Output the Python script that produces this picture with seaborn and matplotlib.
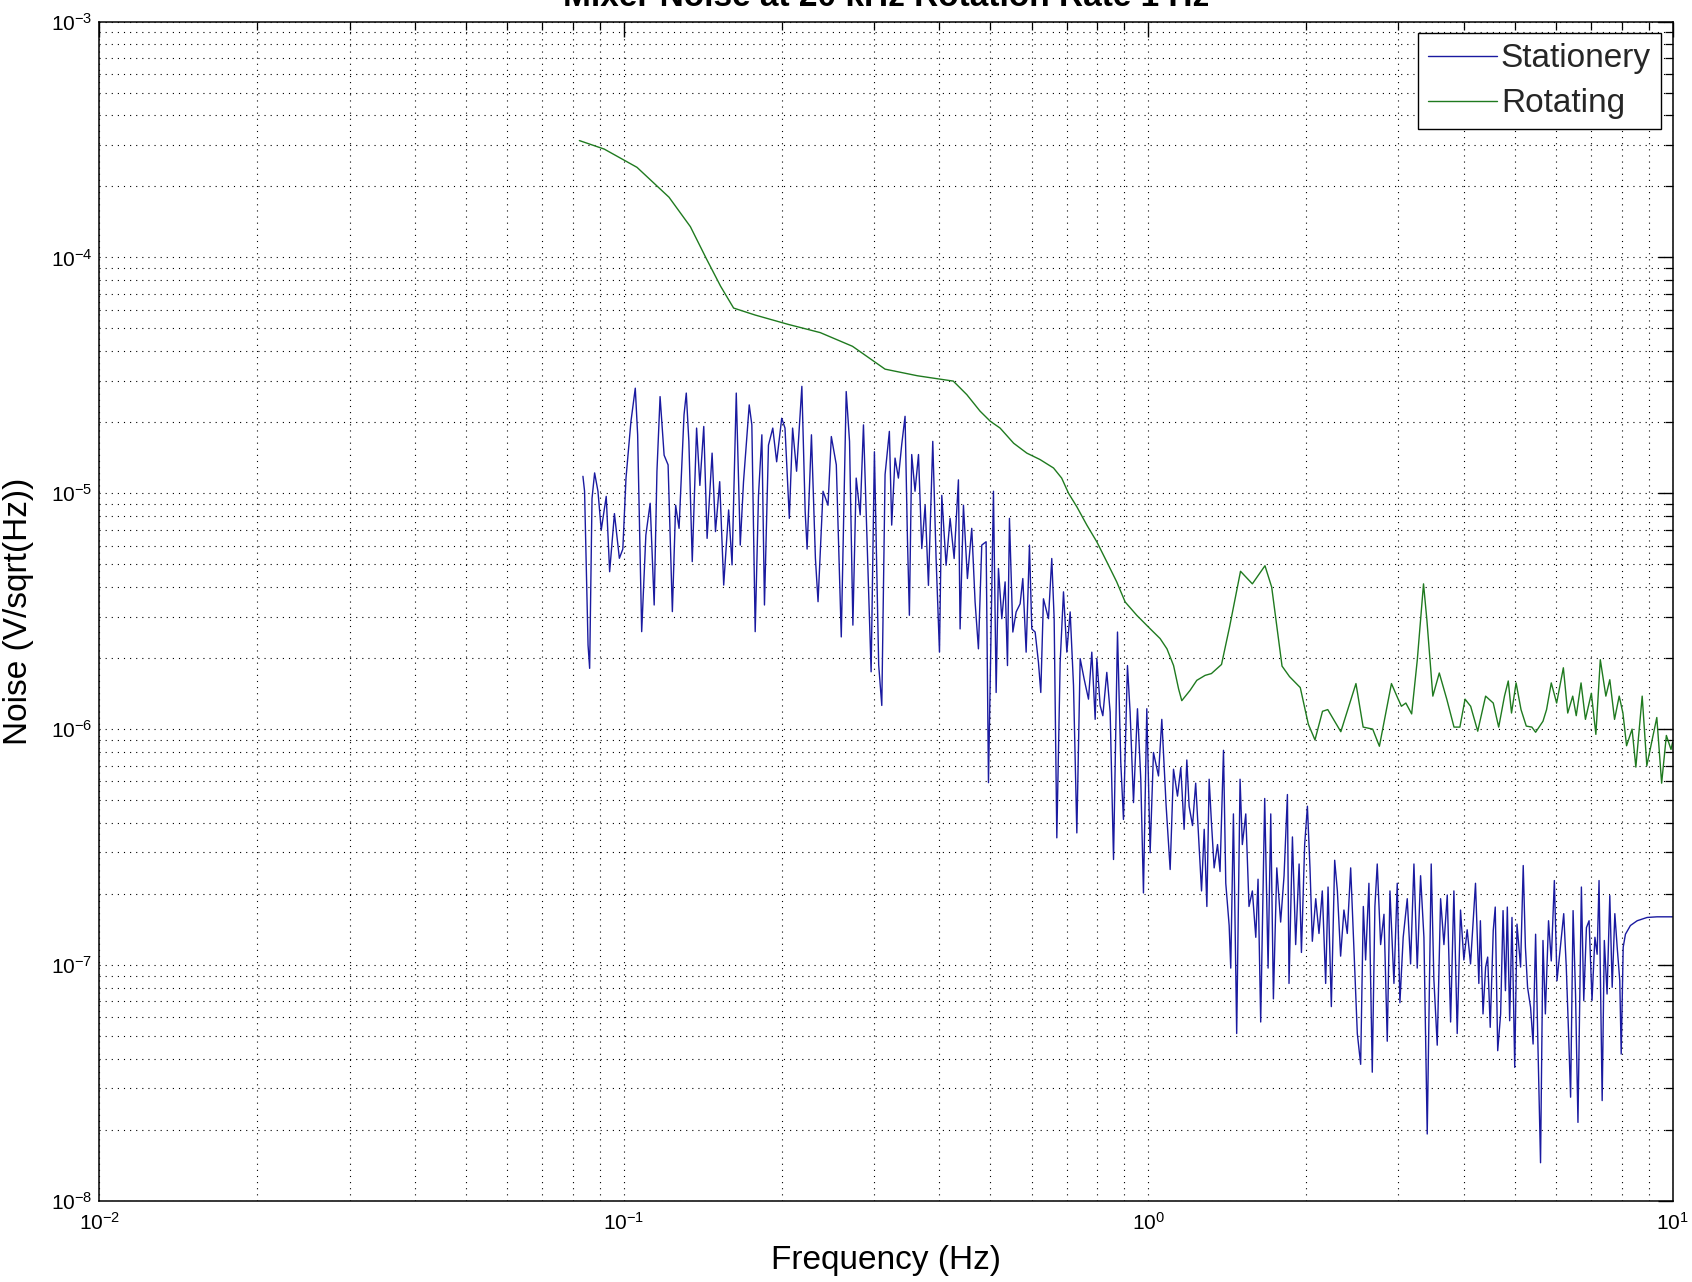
import numpy as np
import pandas as pd
import matplotlib
matplotlib.use("Agg")
import matplotlib.pyplot as plt
import seaborn as sns
from matplotlib.ticker import LogLocator, NullFormatter, LogFormatterSciNotation
from matplotlib.lines import Line2D

# ---------------- data ----------------
title_text = "Mixer Noise at 20 kHz Rotation Rate 1 Hz"
x_label = "Frequency (Hz)"
y_label = "Noise (V/sqrt(Hz))"
series_names = ["Stationery", "Rotating"]

stationary_freq = [
    0.0836, 0.0842, 0.0855, 0.0861, 0.0870, 0.0880, 0.0893, 0.0906, 0.0926, 0.0940,
    0.0960, 0.0981, 0.0996, 0.101, 0.1032, 0.1052, 0.1063, 0.1082, 0.1102, 0.1123,
    0.1143, 0.1157, 0.1173, 0.1194, 0.1215, 0.1238, 0.1256, 0.1275, 0.1303, 0.1316,
    0.1331, 0.1351, 0.1377, 0.1397, 0.1421, 0.1442, 0.1474, 0.1496, 0.1524, 0.1551,
    0.1585, 0.1609, 0.1639, 0.1668, 0.1692, 0.1735, 0.1755, 0.1781, 0.1807, 0.1834,
    0.1855, 0.1888, 0.1924, 0.1957, 0.2001, 0.2030, 0.2069, 0.2099, 0.2136, 0.2186,
    0.2218, 0.2237, 0.2280, 0.2320, 0.2347, 0.2399, 0.2452, 0.2488, 0.2543, 0.2599,
    0.2656, 0.2695, 0.2735, 0.2775, 0.2824, 0.2865, 0.2920, 0.2963, 0.3006, 0.3063,
    0.3105, 0.3150, 0.3210, 0.3243, 0.3291, 0.3340, 0.3389, 0.3439, 0.3475, 0.3505,
    0.3541, 0.3593, 0.3648, 0.3701, 0.3756, 0.3811, 0.3884, 0.3941, 0.4000, 0.4041,
    0.4118, 0.4191, 0.4266, 0.4347, 0.4379, 0.4444, 0.4522, 0.4609, 0.4677, 0.4746,
    0.4816, 0.4909, 0.4960, 0.5018, 0.5070, 0.5130, 0.5182, 0.5259, 0.5336, 0.5392,
    0.5439, 0.5520, 0.5601, 0.5700, 0.5767, 0.5852, 0.5938, 0.5999, 0.6088, 0.6177,
    0.6241, 0.6314, 0.6455, 0.6549, 0.6618, 0.6696, 0.6795, 0.6895, 0.6997, 0.7100,
    0.7205, 0.7311, 0.7419, 0.7550, 0.7695, 0.7808, 0.7924, 0.7983, 0.8099, 0.8195,
    0.8339, 0.8463, 0.8589, 0.8740, 0.8867, 0.8972, 0.9131, 0.9238, 0.9376, 0.9541,
    0.9681, 0.9795, 0.9940, 1.0087, 1.0235, 1.0464, 1.0617, 1.0821, 1.1014, 1.1176,
    1.1374,
    1.154, 1.171, 1.185, 1.197, 1.215, 1.232, 1.251, 1.264, 1.279, 1.294,
    1.307, 1.320, 1.336, 1.356, 1.371, 1.392, 1.406, 1.427, 1.437, 1.454,
    1.475, 1.497, 1.512, 1.535, 1.557, 1.580, 1.604, 1.620, 1.639, 1.668,
    1.693, 1.713, 1.733, 1.759, 1.789, 1.816, 1.843, 1.856, 1.884, 1.911,
    1.940, 1.960, 1.988, 2.012, 2.035, 2.056, 2.087, 2.117, 2.148, 2.180,
    2.203, 2.235, 2.268, 2.295, 2.328, 2.362, 2.397, 2.433, 2.469, 2.505,
    2.542, 2.572, 2.598, 2.636, 2.675, 2.706, 2.734, 2.775, 2.816, 2.857,
    2.891, 2.942, 2.985, 3.020, 3.064, 3.119, 3.165, 3.212, 3.259, 3.307,
    3.356, 3.405, 3.465, 3.506, 3.558, 3.611, 3.664, 3.718, 3.773, 3.828,
    3.884, 3.941, 3.999, 4.058, 4.118, 4.209, 4.271,
    4.30, 4.35, 4.40, 4.44, 4.49, 4.55, 4.59, 4.64, 4.70, 4.75,
    4.80, 4.84, 4.89, 4.94, 5.00, 5.05, 5.13, 5.19, 5.24, 5.29,
    5.36, 5.42, 5.48, 5.53, 5.60, 5.66, 5.72, 5.80, 5.87, 5.95,
    6.02, 6.11, 6.20, 6.27, 6.34, 6.39, 6.46, 6.53, 6.60, 6.70,
    6.77, 6.85, 6.93, 7.02, 7.11, 7.18, 7.24, 7.34, 7.41, 7.50,
    7.59, 7.67, 7.76, 7.84, 7.93, 7.98, 8.05, 8.13, 8.31, 8.56,
    8.94, 9.34, 10.0,
]
stationary_noise = [
    1.18e-5, 1.02e-5, 2.27e-6, 1.81e-6, 9.5e-6, 1.22e-5, 1.02e-5, 6.99e-6, 9.7e-6, 4.65e-6,
    8.2e-6, 5.3e-6, 5.8e-6, 1.16e-5, 2.01e-5, 2.79e-5, 1.77e-5, 2.59e-6, 6.65e-6, 9.07e-6,
    3.36e-6, 1.24e-5, 2.57e-5, 1.45e-5, 1.32e-5, 3.15e-6, 8.9e-6, 7.1e-6, 2.15e-5, 2.66e-5,
    1.66e-5, 5.13e-6, 1.89e-5, 1.08e-5, 1.92e-5, 6.44e-6, 1.48e-5, 6.88e-6, 1.12e-5, 4.08e-6,
    8.5e-6, 4.97e-6, 2.66e-5, 6.03e-6, 1.12e-5, 2.37e-5, 1.95e-5, 2.59e-6, 9.8e-6, 1.77e-5,
    3.36e-6, 1.60e-5, 1.89e-5, 1.36e-5, 2.08e-5, 1.89e-5, 7.83e-6, 1.89e-5, 1.24e-5, 2.84e-5,
    8.36e-6, 5.8e-6, 1.77e-5, 5.3e-6, 3.47e-6, 1.02e-5, 8.9e-6, 1.74e-5, 1.32e-5, 2.46e-6,
    2.70e-5, 1.66e-5, 2.76e-6, 1.16e-5, 8.1e-6, 1.95e-5, 4.97e-6, 1.75e-6, 1.50e-5, 1.87e-6,
    1.26e-6, 1.20e-5, 1.83e-5, 7.33e-6, 1.41e-5, 1.16e-5, 1.61e-5, 2.12e-5, 6.43e-6, 3.04e-6,
    1.46e-5, 1.02e-5, 1.46e-5, 5.83e-6, 8.9e-6, 4.07e-6, 1.66e-5, 5.29e-6, 2.12e-6, 9.8e-6,
    4.95e-6, 7.83e-6, 5.29e-6, 1.14e-5, 2.66e-6, 8.9e-6, 4.35e-6, 7.1e-6, 3.46e-6, 2.19e-6,
    6.03e-6, 6.23e-6, 5.93e-7, 2.66e-6, 1.02e-5, 1.43e-6, 4.80e-6, 2.94e-6, 4.21e-6, 1.86e-6,
    7.83e-6, 2.58e-6, 3.14e-6, 3.40e-6, 4.35e-6, 2.12e-6, 6.03e-6, 2.66e-6, 2.58e-6, 1.92e-6,
    1.43e-6, 3.57e-6, 2.94e-6, 5.29e-6, 2.94e-6, 3.46e-7, 1.92e-6, 3.82e-6, 2.12e-6, 3.14e-6,
    1.53e-6, 3.63e-7, 1.99e-6, 1.63e-6, 1.34e-6, 2.12e-6, 1.10e-6, 1.99e-6, 1.26e-6, 1.14e-6,
    1.74e-6, 1.18e-6, 2.80e-7, 2.58e-6, 7.21e-7, 4.14e-7, 1.86e-6, 1.18e-6, 4.88e-7, 1.22e-6,
    6.13e-7, 2.02e-7, 1.22e-6, 2.99e-7, 7.96e-7, 6.33e-7, 1.10e-6, 4.72e-7, 2.54e-7, 6.76e-7,
    5.2e-7,
    6.87e-7, 3.76e-7, 7.40e-7, 4.71e-7, 3.90e-7, 5.90e-7, 3.12e-7, 2.06e-7, 3.76e-7, 1.77e-7,
    6.13e-7, 4.05e-7, 2.58e-7, 3.24e-7, 2.49e-7, 8.13e-7, 2.22e-7, 1.47e-7, 9.7e-8, 4.37e-7,
    5.12e-8, 6.13e-7, 3.24e-7, 4.37e-7, 1.77e-7, 2.06e-7, 1.31e-7, 2.31e-7, 5.73e-8, 5.08e-7,
    9.7e-8, 4.37e-7, 7.18e-8, 2.58e-7, 1.52e-7, 2.39e-7, 5.28e-7, 8.35e-8, 3.49e-7, 1.22e-7,
    2.68e-7, 1.13e-7, 3.24e-7, 4.71e-7, 2.58e-7, 1.26e-7, 1.91e-7, 1.36e-7, 2.06e-7, 8.35e-8,
    2.14e-7, 6.66e-8, 2.78e-7, 2.06e-7, 1.09e-7, 1.71e-7, 1.36e-7, 2.58e-7, 1.13e-7, 5.12e-8,
    3.79e-8, 1.77e-7, 1.05e-7, 2.22e-7, 3.51e-8, 1.77e-7, 2.68e-7, 1.22e-7, 1.64e-7, 4.75e-8,
    2.06e-7, 8.35e-8, 2.22e-7, 6.92e-8, 1.31e-7, 1.91e-7, 1.01e-7, 2.68e-7, 9.7e-8, 2.39e-7,
    1.31e-7, 1.92e-8, 2.68e-7, 8.67e-8, 4.57e-8, 1.91e-7, 1.22e-7, 1.98e-7, 5.73e-8, 2.06e-7,
    5.12e-8, 1.71e-7, 1.05e-7, 1.41e-7, 1.01e-7, 2.22e-7, 8.35e-8,
    1.54e-7, 6.20e-8, 9.8e-8, 1.08e-7, 5.44e-8, 1.40e-7, 1.76e-7, 4.33e-8, 6.20e-8, 1.70e-7,
    7.78e-8, 1.76e-7, 5.80e-8, 1.59e-7, 3.68e-8, 1.49e-7, 9.8e-8, 2.64e-7, 1.19e-7, 8.04e-8,
    6.61e-8, 4.62e-8, 1.35e-7, 5.10e-8, 1.45e-8, 1.27e-7, 6.20e-8, 1.54e-7, 1.04e-7, 2.28e-7,
    8.58e-8, 1.19e-7, 1.65e-7, 9.8e-8, 4.78e-8, 2.75e-8, 1.70e-7, 7.53e-8, 2.15e-8, 2.14e-7,
    7.06e-8, 1.44e-7, 1.54e-7, 7.06e-8, 1.31e-7, 1.11e-7, 2.28e-7, 2.66e-8, 1.27e-7, 7.53e-8,
    1.97e-7, 8.04e-8, 1.65e-7, 1.19e-7, 8.58e-8, 4.19e-8, 1.19e-7, 1.35e-7, 1.47e-7, 1.54e-7,
    1.59e-7, 1.60e-7, 1.60e-7,
]

rotating_freq = [
    0.0823, 0.0918, 0.106, 0.122, 0.134, 0.144, 0.153, 0.162, 0.178, 0.206,
    0.237, 0.273, 0.315, 0.363, 0.400, 0.425, 0.451, 0.478, 0.500, 0.522,
    0.554, 0.587, 0.622, 0.660, 0.684, 0.705, 0.731, 0.764, 0.798, 0.834,
    0.871, 0.904, 0.951, 1.001, 1.054, 1.086, 1.118, 1.143, 1.159, 1.202,
    1.238, 1.284, 1.32, 1.38, 1.43, 1.50, 1.58, 1.67, 1.72, 1.80,
    1.86, 1.95, 2.02, 2.08, 2.15, 2.20, 2.33, 2.49, 2.57, 2.68,
    2.76, 2.91, 2.98, 3.04, 3.10, 3.18, 3.26, 3.35, 3.40, 3.49,
    3.59, 3.71, 3.83, 3.93, 4.02, 4.12, 4.25, 4.40, 4.55, 4.66,
    4.78, 4.86, 4.93, 5.03, 5.14, 5.26, 5.39, 5.48, 5.66, 5.75,
    5.87, 6.01, 6.19, 6.31, 6.45, 6.55, 6.69, 6.82, 7.00, 7.14,
    7.28, 7.46, 7.59, 7.75, 7.91, 8.04, 8.17, 8.37, 8.51, 8.75,
    8.93, 9.15, 9.33, 9.53, 9.73, 9.93, 10.0,
]
rotating_noise = [
    3.13e-4, 2.88e-4, 2.41e-4, 1.80e-4, 1.35e-4, 9.8e-5, 7.55e-5, 6.1e-5, 5.7e-5, 5.2e-5,
    4.8e-5, 4.2e-5, 3.36e-5, 3.15e-5, 3.05e-5, 2.99e-5, 2.62e-5, 2.23e-5, 2.02e-5, 1.89e-5,
    1.63e-5, 1.48e-5, 1.39e-5, 1.28e-5, 1.16e-5, 1.0e-5, 8.77e-6, 7.33e-6, 6.23e-6, 5.12e-6,
    4.21e-6, 3.46e-6, 3.04e-6, 2.71e-6, 2.42e-6, 2.19e-6, 1.86e-6, 1.48e-6, 1.32e-6, 1.46e-6,
    1.61e-6, 1.69e-6, 1.72e-6, 1.88e-6, 2.72e-6, 4.67e-6, 4.13e-6, 4.93e-6, 4.0e-6, 1.85e-6,
    1.67e-6, 1.50e-6, 1.05e-6, 0.90e-6, 1.19e-6, 1.21e-6, 0.975e-6, 1.56e-6, 1.02e-6, 1.0e-6,
    0.846e-6, 1.56e-6, 1.38e-6, 1.25e-6, 1.29e-6, 1.16e-6, 1.97e-6, 4.13e-6, 2.90e-6, 1.38e-6,
    1.73e-6, 1.34e-6, 1.02e-6, 1.02e-6, 1.34e-6, 1.25e-6, 0.98e-6, 1.38e-6, 1.29e-6, 1.02e-6,
    1.38e-6, 1.60e-6, 1.17e-6, 1.57e-6, 1.21e-6, 1.03e-6, 1.02e-6, 0.97e-6, 1.08e-6, 1.21e-6,
    1.57e-6, 1.29e-6, 1.82e-6, 1.17e-6, 1.38e-6, 1.14e-6, 1.57e-6, 1.10e-6, 1.42e-6, 0.95e-6,
    1.97e-6, 1.38e-6, 1.62e-6, 1.10e-6, 1.38e-6, 1.17e-6, 0.85e-6, 1.0e-6, 0.69e-6, 1.38e-6,
    0.70e-6, 0.91e-6, 1.12e-6, 0.59e-6, 0.94e-6, 0.82e-6, 0.88e-6,
]

x_limits = (1e-2, 1e1)
y_limits = (1e-8, 1e-3)

# ---------------- figure ----------------
sns.set_theme(style="white")
plt.rcParams['font.family'] = ['Liberation Sans', 'DejaVu Sans']
plt.rcParams['mathtext.default'] = 'regular'
plt.rcParams['axes.unicode_minus'] = False

W, H = 1692, 1282
fig = plt.figure(figsize=(W / 100, H / 100), dpi=100)
fig.patch.set_facecolor('white')
ax = fig.add_axes([99.3 / W, 1 - 1200.8 / H, (1672.6 - 99.3) / W, (1200.8 - 21.6) / H])

df = pd.concat([
    pd.DataFrame({'f': stationary_freq, 'v': stationary_noise, 'series': series_names[0]}),
    pd.DataFrame({'f': rotating_freq, 'v': rotating_noise, 'series': series_names[1]}),
], ignore_index=True)

palette = {series_names[0]: '#1a1aa0', series_names[1]: '#1f7a1f'}
sns.lineplot(data=df, x='f', y='v', hue='series', palette=palette, estimator=None,
             sort=False, linewidth=1.0, ax=ax, legend=False)

ax.set_xscale('log')
ax.set_yscale('log')
ax.set_xlim(*x_limits)
ax.set_ylim(*y_limits)

for axis in (ax.xaxis, ax.yaxis):
    axis.set_major_locator(LogLocator(base=10, numticks=20))
    axis.set_minor_locator(LogLocator(base=10, subs=np.arange(2, 10), numticks=20))
    axis.set_minor_formatter(NullFormatter())
    axis.set_major_formatter(LogFormatterSciNotation())

ax.grid(True, which='both', color='black', linestyle=(0, (1, 4.5)), linewidth=0.8)
ax.set_axisbelow(True)
for sp in ax.spines.values():
    sp.set_color('black')
    sp.set_linewidth(1.1)

ax.tick_params(which='both', direction='in', top=True, right=True, colors='black')
ax.tick_params(which='major', length=11, width=1.0, labelsize=15)
ax.tick_params(which='minor', length=5.5, width=0.9)
ax.tick_params(axis='x', which='major', pad=8)
ax.tick_params(axis='y', which='major', pad=5)

ax.set_xlabel(x_label, fontsize=24, labelpad=8, color='black')
ax.set_ylabel(y_label, fontsize=24, labelpad=12, color='black')

handles = [Line2D([0], [0], color=palette[n], lw=1.0) for n in series_names]
leg = ax.legend(handles, series_names, loc='upper right', fontsize=24, frameon=True,
                fancybox=False, edgecolor='black', framealpha=1, handlelength=2.05,
                handletextpad=0.12, borderpad=0.3, labelspacing=0.42, borderaxespad=0.35)
leg.get_frame().set_linewidth(1.0)

fig.text(886 / W, 1 - 6 / H, title_text, ha='center', va='baseline', fontsize=24,
         fontweight='bold', color='black')

fig.savefig('out.png', dpi=100, facecolor='white')
